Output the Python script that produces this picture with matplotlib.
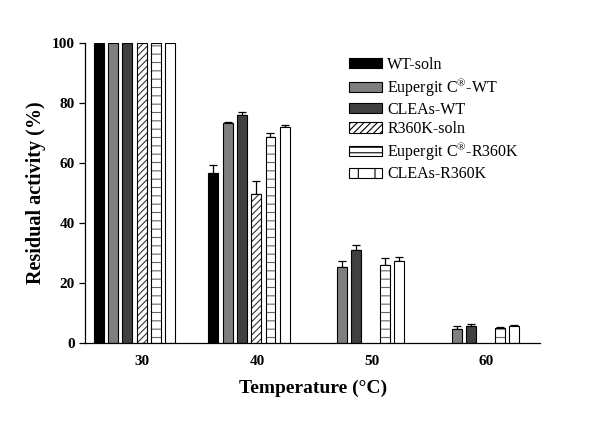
import numpy as np
import matplotlib
matplotlib.use('Agg')
import matplotlib.pyplot as plt
import matplotlib.transforms as mtransforms
from matplotlib.patches import Patch

plt.rcParams['font.family'] = ['Liberation Serif', 'DejaVu Serif']
plt.rcParams['mathtext.fontset'] = 'custom'
plt.rcParams['mathtext.rm'] = 'Liberation Serif'
plt.rcParams['hatch.linewidth'] = 0.8

temps = ['30', '40', '50', '60']
labels = ['WT-soln', r'Eupergit C$^{\circledR}$-WT', 'CLEAs-WT', 'R360K-soln',
          r'Eupergit C$^{\circledR}$-R360K', 'CLEAs-R360K']

wt_soln = [100, 56.6, np.nan, np.nan]
wt_soln_err = [0, 2.6, 0, 0]
eup_wt = [100, 73.4, 25.4, 4.7]
eup_wt_err = [0, 0.3, 2.0, 1.0]
clea_wt = [100, 76.0, 31.0, 5.6]
clea_wt_err = [0, 1.0, 1.8, 0.8]
mut_soln = [100, 49.6, np.nan, np.nan]
mut_soln_err = [0, 4.5, 0, 0]
eup_mut = [100, 68.5, 25.9, 4.9]
eup_mut_err = [0, 1.5, 2.3, 0.3]
clea_mut = [100, 72.0, 27.4, 5.6]
clea_mut_err = [0, 0.8, 1.2, 0.3]

series = [wt_soln, eup_wt, clea_wt, mut_soln, eup_mut, clea_mut]
errors = [wt_soln_err, eup_wt_err, clea_wt_err, mut_soln_err, eup_mut_err, clea_mut_err]
colors = ['black', '#7f7f7f', '#404040', 'white', 'white', 'white']
hatches = [None, None, None, '/////', '--', None]
hatch_cols = [None, None, None, '#333333', '#666666', None]
# legend shows vertical lines for CLEAs-R360K
leg_hatches = [None, None, None, '/////', '---', '|']

fig = plt.figure(figsize=(6, 4.25), dpi=100)
ax = fig.add_axes([0.142, 0.193, 0.758, 0.706])

x = np.arange(len(temps))
pitch = 0.125
width = 0.087
for i, (vals, err) in enumerate(zip(series, errors)):
    pos = x + (i - 2.5) * pitch
    if hatches[i]:
        ax.bar(pos, vals, width, color='white', edgecolor=hatch_cols[i], linewidth=0,
               hatch=hatches[i], zorder=2)
        ax.bar(pos, vals, width, fill=False, edgecolor='black', linewidth=0.8, zorder=3)
    else:
        ax.bar(pos, vals, width, color=colors[i], edgecolor='black', linewidth=0.8, zorder=2)
    ax.errorbar(pos, vals, yerr=[np.zeros(len(err)), err], fmt='none',
                ecolor='black', elinewidth=0.9, capsize=3, capthick=0.9, zorder=1)

ax.set_xlim(-0.43, 3.54)
ax.set_ylim(0, 100)
ax.set_yticks([0, 20, 40, 60, 80, 100])
ax.set_xticks(x)
ax.set_xticklabels(temps)
ax.tick_params(axis='x', length=0, pad=9)
ax.tick_params(axis='y', length=4, width=0.9)
offset = mtransforms.ScaledTranslation(0.08, 0, fig.dpi_scale_trans)
for t in ax.get_xticklabels():
    t.set_transform(t.get_transform() + offset)
for t in ax.get_xticklabels() + ax.get_yticklabels():
    t.set_fontsize(11)
    t.set_fontweight('bold')
ax.spines['top'].set_visible(False)
ax.spines['right'].set_visible(False)
ax.spines['left'].set_linewidth(0.9)
ax.spines['bottom'].set_linewidth(0.9)

ax.set_xlabel('Temperature (°C)', fontsize=14, fontweight='bold', labelpad=8)
ax.set_ylabel('Residual activity (%)', fontsize=14.5, fontweight='bold', labelpad=4)

handles = [Patch(facecolor=colors[i], edgecolor='black', linewidth=0.8,
                 hatch=leg_hatches[i], label=labels[i]) for i in range(len(labels))]
ax.legend(handles=handles, loc='upper left', bbox_to_anchor=(0.568, 0.885),
          bbox_transform=fig.transFigure, frameon=False, fontsize=11.5,
          handlelength=2.1, handleheight=0.6, labelspacing=0.2,
          handletextpad=0.3, borderpad=0)

fig.savefig('out.png', dpi=100)
